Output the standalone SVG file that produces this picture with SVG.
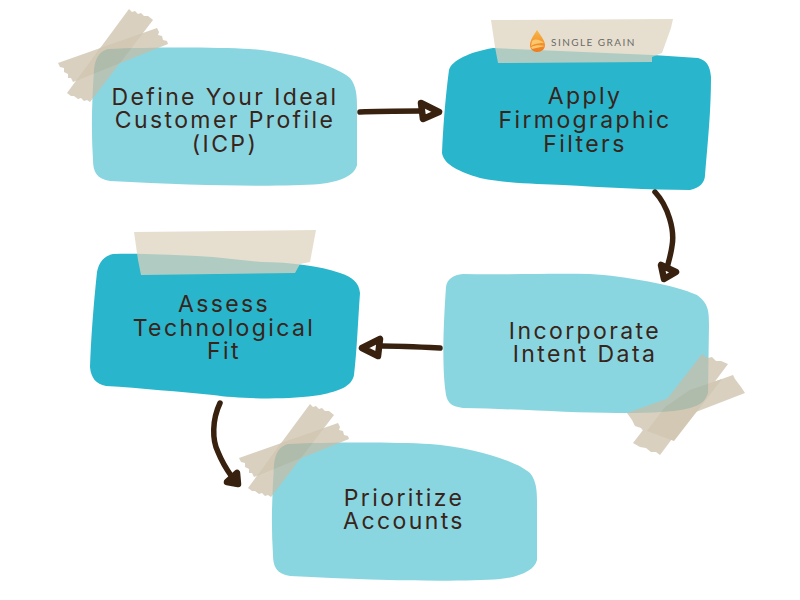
<svg xmlns="http://www.w3.org/2000/svg" width="800" height="600" viewBox="0 0 800 600">
<defs>
<linearGradient id="drop" x1="0" y1="0" x2="0" y2="1"><stop offset="0" stop-color="#f9b84a"/><stop offset="1" stop-color="#ee7a1e"/></linearGradient>
<g id="tapeA" opacity=".7">
<polygon class="tape" points="129,9 132,12 135,11 138,14 141,13 144,16 148,16 153,20 90,102 87,100 84,101 81,98 78,99 74,96 71,96 67,93"/>
<polygon class="tape" points="58,63 157,28 159,32 158,35 162,36 163,40 167,41 168,44 73,82 71,78 68,78 68,74 64,72 64,68 60,67"/>
<polygon class="cross" points="100,48 143,33 120,63 76,81"/>
</g>
</defs>
<style>
.light{fill:#8ad6e0}
.dark{fill:#29b5cb}
.tape{fill:#c9bda6}
.cross{fill:#bfb195}
.strip{fill:#ddd4bf;fill-opacity:.75}
.lbl{font-family:"Inter","Liberation Sans",sans-serif;font-size:23px;letter-spacing:2.4px;fill:#38241a;text-anchor:middle}
.wire{fill:none;stroke:#38220f;stroke-width:5.5;stroke-linecap:round;stroke-linejoin:round}
.head{stroke-width:6.5}
</style>
<rect width="800" height="600" fill="#ffffff"/>
<g id="connectors">
<path class="wire" d="M360 112 C380 111 400 111 420 111"/>
<path class="wire head" d="M421 103 L439 112 L423 119 Z"/>
<path class="wire" d="M655 192 C668 206 675 230 672 246 C671 254 669 260 667 268"/>
<path class="wire head" d="M661 265 L664 279 L676 272 Z"/>
<path class="wire" d="M440 348 C420 347 400 346 382 346"/>
<path class="wire head" d="M362 348 L380 339 L378 356 Z"/>
<path class="wire" d="M220 403 C212 420 212 440 218 452 C222 462 227 470 232 477"/>
<path class="wire head" d="M237 473 L238 484 L227 482 Z"/>
</g>
<g id="node-icp">
<path class="light" d="M108 49 C150 47 215 47 250 49 C290 52 335 65 350 78 C358 88 357 100 357 120 L357 165 C355 175 340 182 320 184 C280 187 200 186 110 181 C97 179 93 172 93 160 C91 130 92 100 94 70 C95 58 100 51 108 49 Z"/>
<use href="#tapeA"/>
<text class="lbl"><tspan x="225" y="105">Define Your Ideal</tspan><tspan x="225" y="128">Customer Profile</tspan><tspan x="225" y="152">(ICP)</tspan></text>
</g>
<g id="node-firmographic">
<path class="dark" d="M493 48 C470 52 452 60 449 70 C445 100 443 130 442 153 C444 165 460 172 480 178 C510 184 540 184 563 185 C600 187 650 190 690 190 C700 188 705 182 705 175 C708 140 711 110 711 77 C710 65 706 60 698 58 L653 55 Z"/>
<polygon class="strip" points="491,20 673,19 671,28 662,53 652,57 652,62 498,63 495,47"/>
<path d="M537 30 C533 36 530 41 530 45 C530 49 533 52 537 52 C542 52 545 49 545 45 C545 41 541 36 537 30 Z" fill="url(#drop)"/>
<path d="M532 41 C536 38 540 40 544 43 C540 43 536 43 531 46 Z M531 47 C535 45 540 45 545 46 C541 47 536 48 532 49 Z" fill="#fbc76a"/>
<text x="551" y="46" font-family="Lato,'Liberation Sans',sans-serif" font-size="10" letter-spacing="1.45" fill="#6b6a66">SINGLE GRAIN</text>
<text class="lbl"><tspan x="585" y="104">Apply</tspan><tspan x="585" y="128">Firmographic</tspan><tspan x="585" y="152">Filters</tspan></text>
</g>
<g id="node-intent">
<path class="light" d="M463 274 C505 275 550 273 590 274 C625 276 675 285 697 295 C708 303 709 310 709 325 L708 393 C705 402 700 405 690 408 C670 413 640 413 617 413 C570 413 520 409 463 408 C452 406 448 404 446 395 C442 370 443 330 446 287 C447 279 453 275 463 274 Z"/>
<g opacity=".7">
<polygon class="tape" points="702,354 708,358 712,357 716,361 721,361 728,364 660,455 656,452 651,452 646,448 640,447 633,443"/>
<polygon class="tape" points="627,413 733,375 735,379 738,383 741,387 745,393 644,432 641,428 635,426 632,420"/>
<polygon class="cross" points="690,390 722,379 674,441 647,431 665,407"/>
</g>
<text class="lbl"><tspan x="585" y="339">Incorporate</tspan><tspan x="585" y="362">Intent Data</tspan></text>
</g>
<g id="node-technological">
<path class="dark" d="M113 254 C104 256 99 262 97 272 C93 310 91 340 90 367 C91 378 96 384 106 386 C140 388 180 392 213 395 C240 399 290 400 320 395 C340 391 352 386 354 375 C357 350 358 320 360 293 C359 282 352 277 340 273 C320 266 290 262 262 262 L213 257 C180 255 140 253 113 254 Z"/>
<polygon class="strip" points="134,232 316,230 310,262 300,264 295,273 141,275 138,260"/>
<text class="lbl"><tspan x="224" y="312">Assess</tspan><tspan x="224" y="336">Technological</tspan><tspan x="224" y="359">Fit</tspan></text>
</g>
<g id="node-prioritize">
<path class="light" d="M288 444 C330 442 395 442 430 444 C470 447 515 460 530 473 C538 483 537 495 537 515 L537 560 C535 570 520 577 500 579 C460 582 380 581 290 576 C277 574 273 567 273 555 C271 525 272 495 274 465 C275 453 280 446 288 444 Z"/>
<use href="#tapeA" x="181" y="395"/>
<text class="lbl"><tspan x="404" y="506">Prioritize</tspan><tspan x="404" y="529">Accounts</tspan></text>
</g>
</svg>
